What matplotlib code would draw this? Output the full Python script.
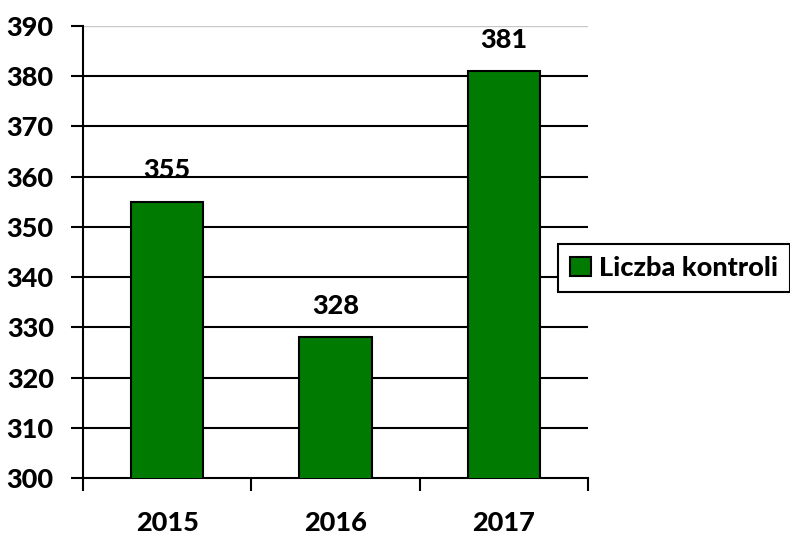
import matplotlib
matplotlib.use("Agg")
from matplotlib import pyplot as plt

# data
years = ["2015", "2016", "2017"]
counts = [355, 328, 381]
series_name = "Liczba kontroli"

plt.rcParams["font.family"] = ["Lato", "DejaVu Sans"]
plt.rcParams["font.weight"] = "black"

FS = 19.5

fig = plt.figure(figsize=(7.9, 5.38), dpi=100)
ax = fig.add_axes([83 / 790, 60 / 538, 505 / 790, 452 / 538])

x = range(len(years))
bars = ax.bar(x, counts, width=0.43, color="#007a00", edgecolor="black",
              linewidth=1.5, label=series_name, zorder=3)

for xi, v in zip(x, counts):
    ax.annotate(str(v), (xi, v), xytext=(0, 14), textcoords="offset points",
                ha="center", va="bottom", fontsize=FS, fontweight="black")

ax.set_ylim(300, 390)
ax.set_yticks(range(300, 391, 10))
ax.set_xlim(-0.5, len(years) - 0.5)
ax.set_xticks([i - 0.5 for i in range(len(years) + 1)])
ax.set_xticklabels([])
ax.set_xticks(list(x), minor=True)
ax.set_xticklabels(years, minor=True)
ax.tick_params(axis="x", which="minor", length=0, pad=24, labelsize=FS)
ax.tick_params(axis="x", which="major", direction="out", length=9, width=1.5)
ax.tick_params(axis="y", direction="out", length=9, width=1.5, labelsize=FS, pad=12)
for lab in ax.get_xticklabels(minor=True) + ax.get_yticklabels():
    lab.set_fontweight("black")

# gridlines: top one light grey, the rest black
for yv in range(310, 390, 10):
    ax.axhline(yv, color="black", linewidth=1.5, zorder=1)
ax.axhline(390, color="#c8c8c8", linewidth=1.0, zorder=1)

for s in ["top", "right"]:
    ax.spines[s].set_visible(False)
ax.spines["left"].set_linewidth(1.5)
ax.spines["bottom"].set_linewidth(1.5)

leg = fig.legend(loc="center left", bbox_to_anchor=(558 / 790, 1 - 268 / 538),
                 borderaxespad=0, frameon=True, fancybox=False,
                 handlelength=0.75, handleheight=0.75, handletextpad=0.3,
                 borderpad=0.45, prop={"weight": "black", "size": FS})
leg.get_frame().set_edgecolor("black")
leg.get_frame().set_linewidth(1.5)
leg.get_frame().set_alpha(1)
leg.set_zorder(5)

fig.savefig("out.png", dpi=100)
